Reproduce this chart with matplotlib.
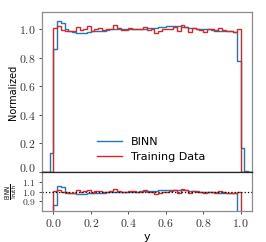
import numpy as np
import matplotlib
matplotlib.use("Agg")
import matplotlib.pyplot as plt
from matplotlib.ticker import FuncFormatter

plt.rcParams['mathtext.fontset'] = 'cm'
plt.rcParams['font.family'] = ['DejaVu Sans']

# bin edges, width 0.02
edges = np.round(np.arange(-0.06, 1.0601, 0.02), 4)

# training data (only 0..1 nonzero)
train_inner = [1.01, 1.02, 0.995, 0.99, 0.985, 0.99, 1.015, 0.995, 1.005, 1.02,
               0.985, 1.005, 1.01, 0.995, 1.0, 1.005, 1.03, 1.01, 0.995, 0.995,
               1.01, 1.005, 1.0, 1.0, 1.015, 0.995, 1.0, 0.975, 0.985, 1.0,
               1.0, 1.005, 1.015, 0.985, 1.03, 1.015, 0.98, 1.01, 1.0, 0.995,
               0.98, 1.0, 1.0, 0.985, 1.01, 0.995, 0.99, 0.985, 0.98, 1.0]
train = [0, 0, 0] + train_inner + [0, 0, 0]

binn = [0, 0, 0.13,
        0.86, 1.06, 1.045, 1.0, 0.99, 0.98, 0.975, 0.975, 0.975, 0.98,
        0.985, 0.985, 0.99, 0.99, 0.995, 1.0, 1.0, 1.0, 1.0, 1.0,
        1.0, 1.0, 1.0, 1.005, 1.005, 1.01, 1.01, 1.01, 1.015, 1.015,
        1.02, 1.02, 1.02, 1.02, 1.015, 1.015, 1.01, 1.01, 1.005, 1.0,
        1.0, 1.0, 0.995, 0.995, 0.99, 0.99, 0.985, 0.985, 0.98, 0.78,
        0.17, 0.01, 0]

truth = [1.0 if 0 <= e < 1.0 - 1e-9 else 0.0 for e in edges[:-1]]

blue = '#1f77b4'
red = '#d62728'

fig = plt.figure(figsize=(2.66, 2.42), dpi=100)
ax = fig.add_axes([0.158, 0.289, 0.789, 0.661])
rax = fig.add_axes([0.158, 0.128, 0.789, 0.161], sharex=ax)

ax.stairs(binn, edges, color=blue, lw=1.0, label='BINN')
ax.stairs(train, edges, color=red, lw=1.0, label='Training Data')

b = np.array(binn)
t = np.array(train)
tr = np.array(truth)
mask = tr > 0
rb = np.where(mask, b / np.where(mask, tr, 1), np.nan)
rt = np.where(mask, t / np.where(mask, tr, 1), np.nan)
rax.stairs(rb, edges, color=blue, lw=1.0)
rax.stairs(rt, edges, color=red, lw=1.0)
rax.axhline(1.0, color='black', ls=':', lw=0.9)

ax.set_xlim(-0.06, 1.06)
ax.set_ylim(0, 1.12)
rax.set_ylim(0.8, 1.2)
ax.set_yticks([0.0, 0.2, 0.4, 0.6, 0.8, 1.0])
rax.set_yticks([0.9, 1.0, 1.1])
rax.set_xticks([0.0, 0.2, 0.4, 0.6, 0.8, 1.0])

fmt = FuncFormatter(lambda v, p: f"${v:.1f}$")
ax.yaxis.set_major_formatter(fmt)
rax.yaxis.set_major_formatter(fmt)
rax.xaxis.set_major_formatter(fmt)
ax.tick_params(labelbottom=False)

for a in (ax, rax):
    a.tick_params(labelsize=8.5, length=2.5, width=0.6, colors='0.2', pad=2)
    for s in a.spines.values():
        s.set_color('0.55')
        s.set_linewidth(0.9)
rax.tick_params(axis='y', labelsize=7)
ax.spines['bottom'].set_color('0.15')
rax.spines['top'].set_color('0.15')

# lift the main 0.0 label so it clears the ratio panel's 1.1
ax.yaxis.get_major_ticks()[0].label1.set_verticalalignment('baseline')

ax.set_ylabel('Normalized', fontsize=7)
ax.yaxis.set_label_coords(-0.115, 0.5)
rax.set_ylabel(r'$\frac{\mathsf{BINN}}{\mathsf{Truth}}$', fontsize=6)
rax.yaxis.set_label_coords(-0.105, 0.5)
rax.set_xlabel('y', fontsize=8, labelpad=1)

ax.legend(loc='lower center', bbox_to_anchor=(0.52, 0.0), frameon=False, fontsize=8,
          handlelength=2.2, labelspacing=0.5)

fig.savefig('out.png', dpi=100)
